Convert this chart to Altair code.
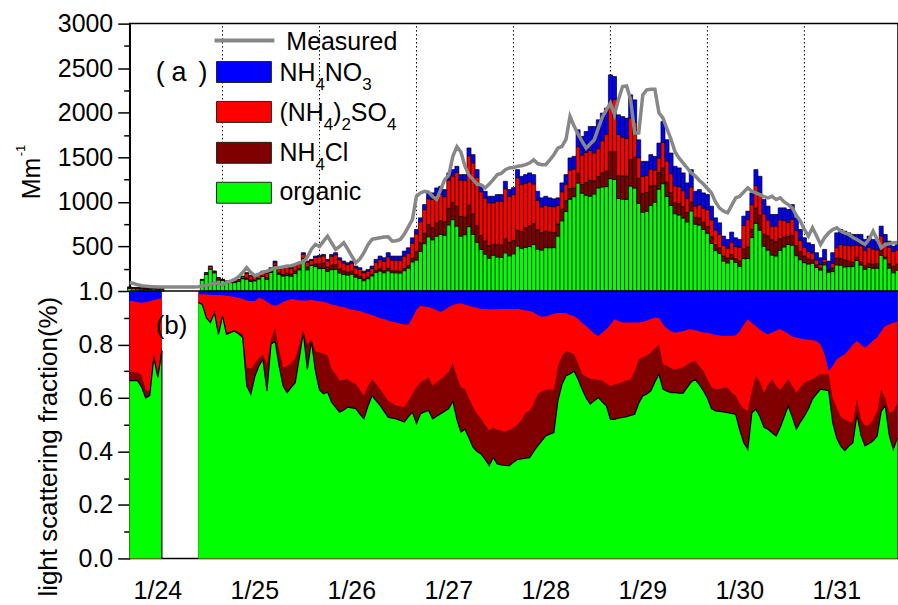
import altair as alt
import pandas as pd

# ---------------- data (hourly, first value at hour -7 relative to 1/24 00:00) ----------------
H_START = -7

# top of each stacked bar (Mm-1); None = no data
total = [
    45, 40, 38, 36, 35, 34, 33, 32, 30,                       # h -7..1
    None, None, None, None, None, None, None, None, None,     # h 2..10
    131, 206, 280, 224, 150, 131, 112, 112, 112,              # h 11..19
    131, 168, 206, 176, 168, 187, 224, 206, 262, 336,         # h 20..29
    262, 262, 280, 262, 299, 317, 430, 336, 355, 392,         # h 30..39
    400, 411, 355, 411, 430, 373, 336, 317, 336, 280,         # h 40..49
    262, 224, 243, 280, 355, 392, 373, 430, 392, 392,         # h 50..59
    392, 448, 485, 597, 690, 821, 970, 1101, 1101, 1157,      # h 60..69
    1175, 1138, 1325, 1362, 1399, 1306, 1306, 1605, 1530, 1362,  # h 70..79
    1194, 1119, 1063, 1063, 1082, 1082, 1231, 1138, 1160, 1362,  # h 80..89
    1287, 1306, 1325, 1306, 1119, 1045, 1063, 1045, 1034, 1045,  # h 90..99
    1213, 1306, 1493, 1511, 1809, 1735, 1790, 1846, 1846, 1921,  # h 100..109
    1996, 2052, 2425, 2406, 1977, 1958, 1940, 2201, 2145, 1697,  # h 110..119
    1455, 1455, 1530, 1510, 1660, 1902, 1697, 1548, 1399, 1381,  # h 120..129
    1325, 1213, 1362, 1119, 1138, 1101, 1082, 952, 821, 765,     # h 130..139
    616, 579, 661, 597, 579, 840, 896, 1101, 1362, 1287,         # h 140..149
    1026, 952, 859, 859, 933, 933, 915, 970, 821, 691,           # h 150..159
    597, 541, 523, 430, 373, 467, 336, 430, 653, 691,            # h 160..169
    672, 653, 635, 635, 635, 579, 616, 579, 560, 728,            # h 170..179
    635, 560, 504, 520,                                          # h 180..183
]

# measured scattering (Mm-1)
measured = [
    95, 85, 70, 60, 55, 50, 48, 46, 45, 44,
    44, 44, 44, 44, 45, 45, 45, 48, 55, 65,
    75, 90, 80, 70, 95, 112, 130, 160, 210, 262,
    210, 170, 190, 210, 224, 240, 262, 265, 270, 280,
    285, 300, 318, 320, 380, 470, 523, 500, 560, 615,
    540, 467, 500, 542, 470, 390, 318, 360, 430, 520,
    579, 590, 598, 605, 608, 560, 565, 579, 640, 720,
    803, 1063, 1100, 1119, 1110, 1060, 1026, 1140, 1250, 1300,
    1510, 1620, 1560, 1400, 1300, 1250, 1200, 1190, 1157, 1200,
    1250, 1306, 1320, 1362, 1381, 1385, 1399, 1405, 1418, 1436,
    1473, 1430, 1418, 1418, 1470, 1529, 1604, 1623, 1700, 1958,
    1850, 1760, 1679, 1604, 1650, 1697, 1828, 1950, 2033, 2108,
    1977, 2150, 2294, 2301, 2145, 1772, 1772, 2201, 2257, 2264,
    2264, 2000, 1940, 1820, 1700, 1560, 1490, 1436, 1380, 1325,
    1290, 1240, 1200, 1150, 1101, 1000, 930, 896, 877, 960,
    1045, 1063, 1110, 1157, 1119, 1100, 1082, 1060, 1045, 1063,
    1026, 1045, 1000, 970, 933, 850, 784, 691, 616, 709,
    620, 523, 600, 653, 690, 709, 672, 650, 635, 600,
    579, 550, 523, 579, 672, 580, 485, 523, 530, 541,
    545,
]

GAP = [None] * 8  # h 2..9

# cumulative light-scattering fractions: organic
frac_org = [
    .665, .665, .665, .64, .60, .61, .752, .677, .777,
] + GAP + [
    .957, .95, .90, .882, .919, .838, .907, .838, .845, .85,
    .84, .826, .645, .614, .68, .72, .745, .626, .801, .813,
    .72, .645, .62, .64, .657, .75, .845, .707, .813, .70,
    .630, .616, .622, .584, .565, .547, .555, .566, .563, .56,
    .54, .522, .57, .609, .59, .572, .55, .528, .525, .522,
    .516, .51, .53, .547, .504, .541, .548, .553, .522, .532,
    .541, .55, .56, .588, .52, .472, .484, .45, .416, .40,
    .391, .37, .347, .378, .353, .35, .348, .347, .36, .37,
    .372, .375, .377, .40, .421, .44, .458, .465, .471, .59,
    .65, .683, .69, .701, .67, .633, .60, .577, .59, .602,
    .585, .571, .52, .52, .525, .527, .53, .535, .539, .58,
    .608, .615, .627, .66, .689, .633, .625, .62, .62, .618,
    .618, .64, .66, .67, .65, .627, .60, .56, .552, .55,
    .548, .545, .542, .539, .48, .433, .408, .545, .558, .53,
    .49, .483, .47, .458, .49, .53, .571, .53, .483, .51,
    .533, .56, .596, .615, .633, .63, .627, .508, .45, .42,
    .403, .42, .433, .539, .46, .421, .43, .44, .458, .55,
    .571, .46, .408, .45,
]

# organic + NH4Cl
frac_org_cl = [
    .70, .698, .695, .684, .63, .625, .765, .69, .79,
] + GAP + [
    .957, .95, .90, .885, .92, .845, .91, .845, .85, .855,
    .845, .838, .714, .71, .73, .75, .763, .726, .82, .863,
    .78, .714, .72, .73, .75, .80, .85, .80, .82, .775,
    .770, .765, .759, .708, .690, .665, .668, .670, .660, .652,
    .630, .609, .645, .670, .652, .634, .612, .590, .580, .572,
    .569, .566, .59, .616, .64, .659, .668, .677, .646, .66,
    .67, .683, .70, .73, .68, .64, .634, .60, .566, .54,
    .522, .50, .478, .49, .48, .478, .475, .48, .49, .50,
    .52, .545, .552, .58, .615, .625, .63, .633, .633, .72,
    .757, .776, .77, .764, .73, .689, .68, .672, .670, .668,
    .664, .655, .645, .65, .655, .66, .665, .67, .70, .745,
    .751, .76, .77, .785, .801, .726, .72, .712, .707, .71,
    .715, .725, .735, .739, .72, .701, .67, .64, .633, .635,
    .638, .639, .62, .608, .58, .56, .552, .63, .683, .66,
    .62, .65, .67, .645, .63, .65, .67, .645, .62, .64,
    .658, .665, .67, .68, .689, .689, .689, .60, .564, .53,
    .52, .512, .508, .596, .52, .496, .50, .52, .55, .633,
    .60, .545, .55, .58,
]

# organic + NH4Cl + (NH4)2SO4  (remainder up to 1.0 is NH4NO3)
frac_org_cl_so4 = [
    .964, .962, .958, .956, .958, .962, .966, .970, .974,
] + GAP + [
    .988, .988, .987, .986, .985, .985, .984, .982, .98, .978,
    .975, .97, .965, .963, .963, .975, .97, .96, .95, .945,
    .95, .96, .965, .97, .968, .965, .965, .965, .966, .964,
    .962, .960, .955, .950, .947, .942, .940, .935, .930, .928,
    .925, .920, .915, .910, .905, .898, .895, .890, .885, .882,
    .878, .876, .874, .90, .93, .945, .942, .94, .935, .928,
    .922, .93, .94, .948, .952, .954, .95, .945, .94, .937,
    .933, .933, .932, .932, .932, .933, .933, .933, .933, .934,
    .93, .927, .925, .92, .91, .904, .905, .91, .915, .918,
    .918, .918, .91, .907, .895, .88, .869, .855, .84, .832,
    .845, .857, .875, .894, .888, .882, .882, .882, .882, .882,
    .885, .89, .895, .9, .9, .876, .86, .85, .844, .848,
    .85, .855, .857, .853, .85, .845, .844, .84, .836, .834,
    .832, .832, .832, .835, .85, .875, .894, .88, .869, .855,
    .845, .838, .845, .852, .857, .85, .84, .83, .826, .822,
    .82, .818, .816, .813, .80, .764, .702, .72, .745, .755,
    .764, .78, .80, .813, .80, .788, .80, .815, .826, .85,
    .869, .875, .881, .885,
]

components = ["organic", "NH4Cl", "(NH4)2SO4", "NH4NO3"]
comp_colors = ["#00ff00", "#800000", "#ff0000", "#0000ff"]
measured_color = "#878787"

day_labels = ["1/24", "1/25", "1/26", "1/27", "1/28", "1/29", "1/30", "1/31"]
day_label_hours = [0, 24, 48, 72, 96, 120, 144, 168]
day_tick_hours = [16, 40, 64, 88, 112, 136, 160]

top_major = [500, 1000, 1500, 2000, 2500, 3000]
top_minor = [250, 750, 1250, 1750, 2250, 2750]
bot_major = [0.0, 0.2, 0.4, 0.6, 0.8, 1.0]
bot_minor = [0.1, 0.3, 0.5, 0.7, 0.9]

# ---------------- build tables ----------------
n = len(total)
for arr in (measured, frac_org, frac_org_cl, frac_org_cl_so4):
    assert len(arr) == n, len(arr)
hours = list(range(H_START, H_START + n))

TOP = 3000.0


def ty(v):
    return 1.0 + v / TOP


bar_rows = []
for h, t, g, d, r in zip(hours, total, frac_org, frac_org_cl, frac_org_cl_so4):
    if t is None or g is None:
        continue
    b = [0.0, g, d, r, 1.0]
    for i, comp in enumerate(components):
        bar_rows.append(dict(h0=h - 0.5, h1=h + 0.5, comp=comp,
                             lo=ty(t * b[i]), hi=ty(t * b[i + 1])))
bars_df = pd.DataFrame(bar_rows)

frac_rows = []
for h, g, d, r in zip(hours, frac_org, frac_org_cl, frac_org_cl_so4):
    if g is None:
        continue
    frac_rows.append(dict(h=h, seg=0 if h < 5 else 1, g=g, d=d, r=r, one=1.0))
frac_df = pd.DataFrame(frac_rows)
seg0_end = frac_df[frac_df.seg == 0].h.max()

meas_df = pd.DataFrame(dict(h=hours, m=[ty(v) for v in measured]))

# ---------------- geometry ----------------
W, HGT = 770, 536
PX0, PY0 = 130, 23
xscale = alt.Scale(domain=[(130 - 158.2) / 4.05, (900 - 158.2) / 4.05], nice=False, zero=False)
yscale = alt.Scale(domain=[0, 2], nice=False, zero=False)
FONT = "Liberation Sans"

one = pd.DataFrame({"k": [0]})


def X(field, **kw):
    return alt.X(field, scale=xscale, axis=None, **kw)


def Y(field, axis=None, **kw):
    return alt.Y(field, scale=yscale, axis=axis, stack=None, **kw)


layers = []

major_axis = alt.Axis(
    orient="left", values=bot_major + [ty(v) for v in top_major],
    labelExpr="datum.value <= 1.0001 ? format(datum.value, '.1f') : format(round((datum.value - 1) * 3000), 'd')",
    tickSize=12, tickWidth=1.5, tickColor="black", labelPadding=5,
    labelFont=FONT, labelFontSize=25, labelColor="black",
    domain=True, domainColor="black", domainWidth=1.5,
    grid=False, title=None, labelOverlap=False, labelFlush=False,
)
minor_axis = alt.Axis(
    orient="left", values=bot_minor + [ty(v) for v in top_minor],
    labels=False, tickSize=6, tickWidth=1.5, tickColor="black",
    domain=False, grid=False, title=None,
)
x_axis = alt.Axis(
    orient="bottom", values=day_tick_hours, labels=False, tickSize=10,
    tickWidth=1.5, tickColor="black", domain=True, domainColor="black",
    domainWidth=1.5, grid=False, title=None,
)

# bottom panel: cumulative fractions drawn as overlaid areas
area_specs = [("one", comp_colors[3]), ("r", comp_colors[2]), ("d", comp_colors[1]), ("g", comp_colors[0])]
for i, (fld, col) in enumerate(area_specs):
    ax = major_axis if i == 0 else (minor_axis if i == 1 else None)
    enc = dict(x=alt.X("h:Q", scale=xscale, axis=x_axis if i == 0 else None),
               y=Y(f"{fld}:Q", axis=ax), detail="seg:N")
    layers.append(alt.Chart(frac_df).mark_area(color=col, interpolate="linear").encode(**enc))

layers.append(alt.Chart(frac_df).mark_line(color="black", strokeWidth=1.2).encode(
    x=X("h:Q"), y=Y("g:Q"), detail="seg:N"))
layers.append(alt.Chart(frac_df[frac_df.h == seg0_end]).mark_rule(color="black", strokeWidth=1.2).encode(
    x=X("h:Q"), y=Y("g:Q"), y2=alt.datum(0)))

# top panel
layers.append(alt.Chart(pd.DataFrame({"h": day_tick_hours})).mark_rule(
    color="black", strokeDash=[1.5, 2.5], strokeWidth=1).encode(
    x=X("h:Q"), y=alt.Y(datum=1.0, scale=yscale, axis=None), y2=alt.datum(2.0)))

layers.append(alt.Chart(bars_df).mark_bar(stroke="black", strokeWidth=0.7).encode(
    x=X("h0:Q"), x2="h1", y=Y("lo:Q"), y2="hi",
    color=alt.Color("comp:N", scale=alt.Scale(domain=components, range=comp_colors), legend=None)))

layers.append(alt.Chart(meas_df).mark_line(color=measured_color, strokeWidth=3.5).encode(
    x=X("h:Q"), y=Y("m:Q")))

# panel separator at 1.0
layers.append(alt.Chart(one).mark_rule(color="black", strokeWidth=1.5).encode(
    y=alt.Y(datum=1.0, scale=yscale, axis=None), x=alt.value(0), x2=alt.value(W)))

# day labels
layers.append(alt.Chart(pd.DataFrame({"h": day_label_hours, "lab": day_labels})).mark_text(
    font=FONT, fontSize=25, align="center", baseline="alphabetic", color="black").encode(
    x=X("h:Q"), y=alt.value(HGT + 41), text="lab:N"))


# ---------------- text / legend helpers (pixel positions) ----------------
def txt(s, x, y, size, angle=0, align="left"):
    kw = dict(text=s, font=FONT, fontSize=size, align=align, baseline="alphabetic", color="black")
    if angle:
        kw["angle"] = angle
    return alt.Chart(one).mark_text(**kw).encode(x=alt.value(x - PX0), y=alt.value(y - PY0))


CW = {"N": .722, "H": .722, "O": .778, "S": .667, "C": .722, "l": .222,
      "(": .333, ")": .333, "2": .556, "3": .556, "4": .556}


def rich(parts, x, y, size=25, sub=17, drop=9):
    out = []
    for s, is_sub in parts:
        fs = sub if is_sub else size
        out.append(txt(s, x, y + (drop if is_sub else 0), fs))
        x += sum(CW.get(c, .556) for c in s) * fs
    return out


# axis titles
layers.append(txt("Mm", 40, 199, 25, angle=270))
layers.append(txt("-1", 25, 156, 13, angle=270))
layers.append(txt("light scattering fraction(%)", 57, 447, 26, angle=270, align="center"))

# panel tags
layers.append(txt("(", 156, 81, 27))
layers.append(txt("a", 172, 81, 27))
layers.append(txt(")", 199, 81, 27))
layers.append(txt("(b)", 156, 334, 26))

# legend
layers.append(alt.Chart(one).mark_rule(color=measured_color, strokeWidth=4).encode(
    x=alt.value(215 - PX0), x2=alt.value(275 - PX0), y=alt.value(40 - PY0)))
layers.append(txt("Measured", 287, 49, 25))

sw_tops = [61, 101, 142, 182]
sw_cols = [comp_colors[3], comp_colors[2], comp_colors[1], comp_colors[0]]
for top, col in zip(sw_tops, sw_cols):
    layers.append(alt.Chart(one).mark_rect(color=col, stroke="#222222", strokeWidth=1).encode(
        x=alt.value(217 - PX0), x2=alt.value(272 - PX0),
        y=alt.value(top - PY0), y2=alt.value(top + 21 - PY0)))

layers += rich([("NH", 0), ("4", 1), ("NO", 0), ("3", 1)], 280, 81)
layers += rich([("(NH", 0), ("4", 1), (")", 0), ("2", 1), ("SO", 0), ("4", 1)], 280, 121)
layers += rich([("NH", 0), ("4", 1), ("Cl", 0)], 280, 161)
layers.append(txt("organic", 280, 200, 25))

chart = alt.layer(*layers).resolve_axis(y="independent").properties(
    width=W, height=HGT,
    padding={"left": PX0, "top": PY0, "right": 0, "bottom": 605 - PY0 - HGT},
    autosize=alt.AutoSizeParams(type="none"),
    background="white",
).configure_view(stroke="black", strokeWidth=1.5)

chart.save("out.html", embed_options={"renderer": "svg", "actions": False})
